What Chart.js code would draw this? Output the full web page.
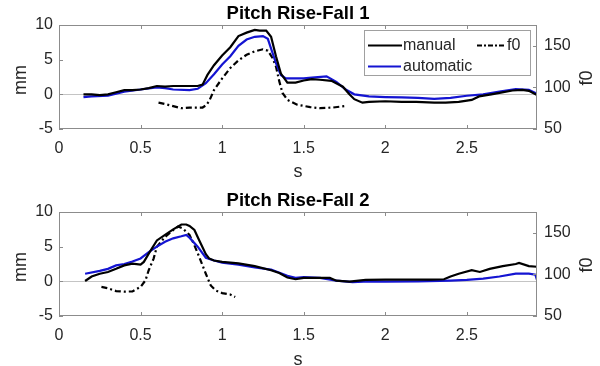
<!DOCTYPE html>
<html>
<head>
<meta charset="utf-8">
<script src="https://cdn.jsdelivr.net/npm/chart.js@4"></script>
<style>
body { margin: 0; background: #fff; }
#wrap { position: relative; width: 600px; height: 366px; }
canvas { position: absolute; left: 0; }
</style>
</head>
<body>
<div id="wrap">
  <canvas id="c1" width="600" height="183" style="top:0"></canvas>
  <canvas id="c2" width="600" height="183" style="top:183px"></canvas>
</div>
<script>
// Pitch Rise-Fall 1
const t1Manual = [0.15, 0.2, 0.25, 0.3, 0.35, 0.4, 0.45, 0.5, 0.55, 0.6, 0.65, 0.7, 0.75, 0.8, 0.85, 0.88, 0.91, 0.95, 1.0, 1.05, 1.1, 1.15, 1.2, 1.23, 1.27, 1.3, 1.33, 1.36, 1.4, 1.45, 1.5, 1.55, 1.6, 1.67, 1.74, 1.78, 1.81, 1.86, 1.9, 2.0, 2.1, 2.19, 2.3, 2.37, 2.45, 2.53, 2.575, 2.65, 2.7, 2.78, 2.84, 2.88, 2.93];
const manual1 = [0.0, 0.0, -0.1, 0.0, 0.3, 0.6, 0.6, 0.7, 0.9, 1.2, 1.1, 1.2, 1.2, 1.2, 1.2, 1.4, 2.8, 4.2, 5.6, 6.8, 8.4, 8.9, 9.3, 9.2, 9.2, 8.3, 5.5, 3.0, 1.7, 1.7, 2.0, 2.2, 2.1, 1.95, 1.1, 0.0, -0.7, -1.2, -1.1, -1.0, -1.1, -1.1, -1.2, -1.2, -1.1, -0.8, -0.3, 0.0, 0.2, 0.55, 0.65, 0.5, -0.1];
const t1Auto = [0.15, 0.2, 0.3, 0.35, 0.4, 0.5, 0.6, 0.65, 0.7, 0.8, 0.85, 0.9, 0.95, 1.0, 1.05, 1.1, 1.15, 1.2, 1.25, 1.28, 1.3, 1.33, 1.36, 1.39, 1.45, 1.5, 1.55, 1.64, 1.7, 1.76, 1.81, 1.9, 2.0, 2.1, 2.2, 2.3, 2.4, 2.5, 2.6, 2.7, 2.8, 2.88, 2.93];
const auto1 = [-0.4, -0.3, -0.2, 0.1, 0.4, 0.7, 1.0, 0.9, 0.7, 0.6, 0.8, 1.6, 2.9, 4.3, 5.5, 7.0, 7.9, 8.3, 8.4, 8.0, 6.6, 4.5, 2.8, 2.3, 2.3, 2.3, 2.4, 2.6, 1.8, 0.65, 0.0, -0.3, -0.4, -0.45, -0.5, -0.65, -0.5, -0.2, 0.0, 0.4, 0.75, 0.65, 0.1];
const t1F0 = [0.61, 0.65, 0.7, 0.75, 0.8, 0.88, 0.9, 0.92, 0.95, 1.0, 1.05, 1.1, 1.15, 1.2, 1.25, 1.28, 1.31, 1.33, 1.35, 1.37, 1.4, 1.46, 1.5, 1.54, 1.6, 1.68, 1.75];
const f0One = [81.7, 80, 77.5, 75, 75.8, 75.8, 78.3, 83.3, 96.7, 110.8, 123.3, 132.5, 139.2, 143.3, 145.8, 144.2, 135, 125, 107.5, 93.3, 85, 79.2, 77.8, 76.3, 75, 75.8, 77.5];

// Pitch Rise-Fall 2
const t2Manual = [0.16, 0.2, 0.25, 0.3, 0.35, 0.4, 0.45, 0.5, 0.52, 0.55, 0.6, 0.65, 0.7, 0.75, 0.78, 0.8, 0.83, 0.86, 0.9, 0.92, 0.95, 1.0, 1.1, 1.2, 1.3, 1.35, 1.4, 1.45, 1.5, 1.58, 1.66, 1.7, 1.78, 1.88, 2.0, 2.14, 2.28, 2.36, 2.4, 2.45, 2.53, 2.58, 2.64, 2.72, 2.8, 2.82, 2.88, 2.93];
const manual2 = [0.05, 0.7, 1.1, 1.35, 1.8, 2.3, 2.55, 2.4, 2.8, 4.0, 5.9, 6.7, 7.5, 8.2, 8.2, 8.0, 7.4, 5.9, 3.9, 3.3, 3.0, 2.8, 2.6, 2.2, 1.6, 1.2, 0.55, 0.3, 0.5, 0.5, 0.5, 0.1, -0.05, 0.2, 0.25, 0.25, 0.25, 0.3, 0.7, 1.1, 1.6, 1.35, 1.8, 2.2, 2.5, 2.65, 2.2, 2.1];
const t2Auto = [0.16, 0.25, 0.3, 0.35, 0.4, 0.45, 0.5, 0.55, 0.6, 0.65, 0.7, 0.75, 0.78, 0.8, 0.85, 0.9, 0.95, 1.0, 1.1, 1.2, 1.3, 1.4, 1.45, 1.5, 1.6, 1.7, 1.8, 1.9, 2.0, 2.2, 2.4, 2.5, 2.6, 2.7, 2.8, 2.88, 2.92, 2.93];
const auto2 = [1.1, 1.5, 1.8, 2.3, 2.5, 2.85, 3.3, 4.2, 5.0, 5.7, 6.2, 6.5, 6.7, 6.3, 5.0, 3.4, 3.0, 2.7, 2.4, 2.0, 1.7, 0.8, 0.5, 0.6, 0.5, 0.1, -0.1, 0.0, -0.05, 0.0, 0.1, 0.2, 0.4, 0.7, 1.1, 1.1, 0.95, 0.2];
const t2F0 = [0.26, 0.3, 0.35, 0.4, 0.45, 0.5, 0.53, 0.55, 0.58, 0.6, 0.65, 0.7, 0.73, 0.76, 0.8, 0.83, 0.86, 0.9, 0.93, 0.96, 1.0, 1.05, 1.08];
const f0Two = [85, 83.3, 80, 79.2, 79.6, 85, 92.9, 105, 119, 133.3, 145, 153.3, 157.5, 155, 147.5, 135, 120.8, 100.8, 86.7, 80.8, 77.5, 75.8, 72.9];

const xTicks = [0, 0.5, 1, 1.5, 2, 2.5];
const mmTicks = [-5, 0, 5, 10];
const f0Ticks = [50, 100, 150];

const FONT = '"Liberation Sans", Arial, sans-serif';
const BLUE = '#1414d2';
const AXIS = '#8c8c8c';
const TEXT = '#262626';

function pts(t, v) {
  return t.map((x, i) => ({ x: x, y: v[i] }));
}

// box, inward ticks, zero line, labels, legend (matlab look)
const figure = {
  id: 'figure',
  beforeDatasetsDraw(chart) {
    const ctx = chart.ctx, a = chart.chartArea;
    const y0 = Math.round(chart.scales.y.getPixelForValue(0)) + 0.5;
    ctx.save();
    ctx.strokeStyle = '#c4c4c4';
    ctx.lineWidth = 1;
    ctx.beginPath();
    ctx.moveTo(a.left, y0);
    ctx.lineTo(a.right, y0);
    ctx.stroke();
    ctx.restore();
  },
  afterDatasetsDraw(chart, args, o) {
    const ctx = chart.ctx, a = chart.chartArea;
    const sx = chart.scales.x, sy = chart.scales.y, sy1 = chart.scales.y1;
    const tl = 4;
    ctx.save();
    ctx.strokeStyle = AXIS;
    ctx.lineWidth = 1;
    ctx.strokeRect(a.left + 0.5, a.top + 0.5, a.right - a.left - 1, a.bottom - a.top - 1);
    ctx.beginPath();
    xTicks.forEach(v => {
      const px = Math.round(sx.getPixelForValue(v)) + 0.5;
      ctx.moveTo(px, a.bottom); ctx.lineTo(px, a.bottom - tl);
      ctx.moveTo(px, a.top); ctx.lineTo(px, a.top + tl);
    });
    mmTicks.forEach(v => {
      const py = Math.round(sy.getPixelForValue(v)) + 0.5;
      ctx.moveTo(a.left, py); ctx.lineTo(a.left + tl, py);
    });
    f0Ticks.forEach(v => {
      const py = Math.round(sy1.getPixelForValue(v)) + 0.5;
      ctx.moveTo(a.right, py); ctx.lineTo(a.right - tl, py);
    });
    ctx.stroke();

    // titles
    ctx.fillStyle = '#000';
    ctx.font = 'bold 18.5px ' + FONT;
    ctx.textAlign = 'center';
    ctx.textBaseline = 'alphabetic';
    ctx.fillText(o.title, (a.left + a.right) / 2, a.top - 6);

    ctx.fillStyle = TEXT;
    ctx.font = '18px ' + FONT;
    ctx.textBaseline = 'middle';
    ctx.fillText('s', (a.left + a.right) / 2, a.bottom + o.sGap);
    const mid = (a.top + a.bottom) / 2;
    ctx.save();
    ctx.translate(21, mid + 3);
    ctx.rotate(-Math.PI / 2);
    ctx.fillText('mm', 0, 0);
    ctx.restore();
    ctx.save();
    ctx.translate(587, mid + 1);
    ctx.rotate(-Math.PI / 2);
    ctx.fillText('f0', 0, 0);
    ctx.restore();

    if (o.legend) {
      const L = 364.5, T = 30.5, W = 166, H = 45;
      ctx.fillStyle = '#fff';
      ctx.fillRect(L, T, W, H);
      ctx.strokeStyle = '#a0a0a0';
      ctx.strokeRect(L, T, W, H);
      ctx.lineWidth = 2;
      ctx.strokeStyle = '#000';
      ctx.beginPath(); ctx.moveTo(368, 45.5); ctx.lineTo(402, 45.5); ctx.stroke();
      ctx.setLineDash([5, 2, 2, 2]);
      ctx.beginPath(); ctx.moveTo(477, 45.5); ctx.lineTo(505, 45.5); ctx.stroke();
      ctx.setLineDash([]);
      ctx.strokeStyle = BLUE;
      ctx.beginPath(); ctx.moveTo(368, 66.5); ctx.lineTo(401, 66.5); ctx.stroke();
      ctx.fillStyle = TEXT;
      ctx.font = '16px ' + FONT;
      ctx.textAlign = 'left';
      ctx.fillText('manual', 403, 46);
      ctx.fillText('f0', 507, 46);
      ctx.fillText('automatic', 403, 67);
    }
    ctx.restore();
  }
};

function makeChart(id, m, f, padTop, xHeight, title, sGap, legend) {
  return new Chart(document.getElementById(id), {
    type: 'line',
    data: {
      datasets: [
        { label: 'manual', data: m[0], borderColor: '#000', borderWidth: 2.2, yAxisID: 'y' },
        { label: 'automatic', data: m[1], borderColor: BLUE, borderWidth: 2.2, yAxisID: 'y' },
        { label: 'f0', data: f, borderColor: '#000', borderWidth: 2.2, borderDash: [6, 3, 2, 3], yAxisID: 'y1' }
      ]
    },
    options: {
      responsive: false,
      animation: false,
      devicePixelRatio: 1,
      layout: { padding: { top: padTop, left: 0, right: 0, bottom: 0 } },
      elements: { point: { radius: 0 }, line: { tension: 0 } },
      plugins: {
        legend: { display: false },
        tooltip: { enabled: false },
        figure: { title: title, sGap: sGap, legend: legend }
      },
      scales: {
        x: {
          type: 'linear', min: 0, max: 2.93,
          afterBuildTicks: s => { s.ticks = xTicks.map(v => ({ value: v })); },
          afterFit: s => { s.height = xHeight; },
          ticks: { color: TEXT, font: { family: FONT, size: 16 }, padding: 10, callback: v => String(v) },
          grid: { display: false, drawTicks: false },
          border: { display: false }
        },
        y: {
          position: 'left', min: -5, max: 10,
          afterBuildTicks: s => { s.ticks = mmTicks.map(v => ({ value: v })); },
          afterFit: s => { s.width = 59; },
          ticks: { color: TEXT, font: { family: FONT, size: 16 }, padding: 6 },
          grid: { display: false, drawTicks: false },
          border: { display: false }
        },
        y1: {
          position: 'right', min: 50, max: 175,
          afterBuildTicks: s => { s.ticks = f0Ticks.map(v => ({ value: v })); },
          afterFit: s => { s.width = 63; },
          ticks: { color: TEXT, font: { family: FONT, size: 16 }, padding: 7 },
          grid: { display: false, drawTicks: false },
          border: { display: false }
        }
      }
    },
    plugins: [figure]
  });
}

makeChart('c1', [pts(t1Manual, manual1), pts(t1Auto, auto1)], pts(t1F0, f0One), 25, 54, 'Pitch Rise-Fall 1', 43, true);
makeChart('c2', [pts(t2Manual, manual2), pts(t2Auto, auto2)], pts(t2F0, f0Two), 29, 50, 'Pitch Rise-Fall 2', 44, false);
</script>
</body>
</html>
